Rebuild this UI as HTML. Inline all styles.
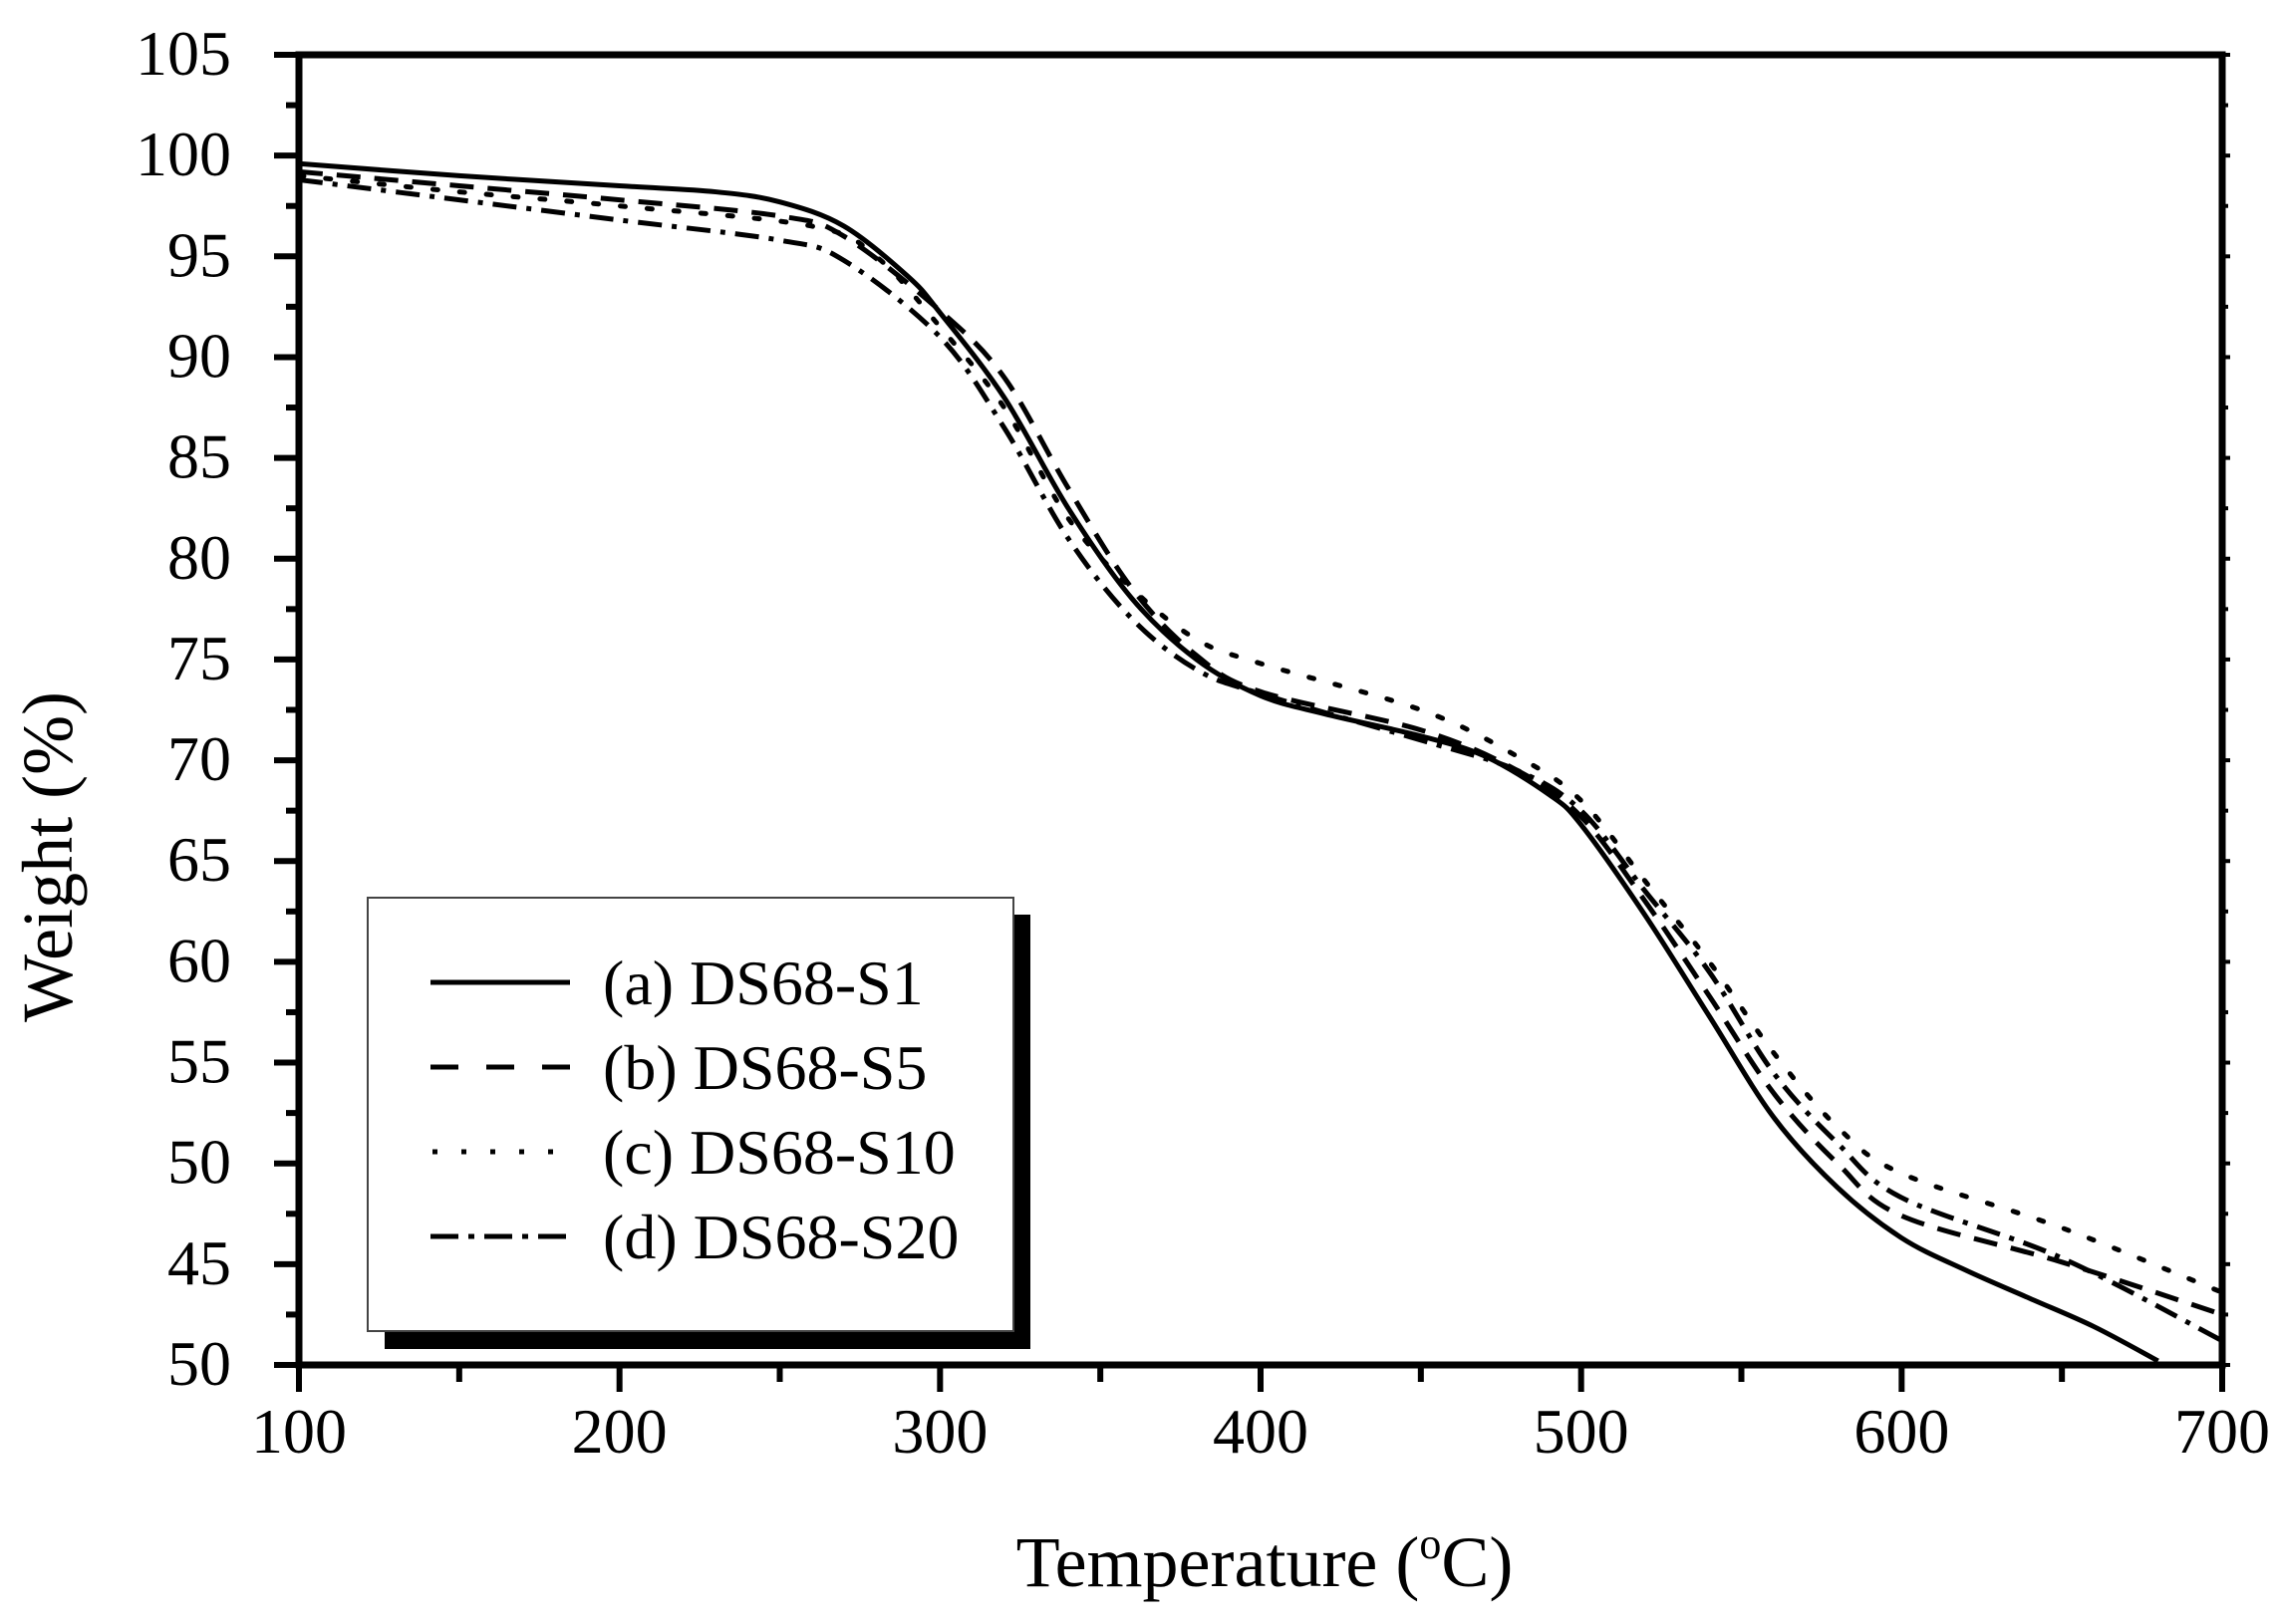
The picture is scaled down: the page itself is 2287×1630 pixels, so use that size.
<!DOCTYPE html>
<html><head><meta charset="utf-8"><style>
html,body{margin:0;padding:0;background:#fff;}
svg{display:block;}
text{font-family:"Liberation Serif",serif;fill:#000;}
</style></head><body>
<svg id="s" width="2287" height="1630" viewBox="0 0 2287 1630" xmlns="http://www.w3.org/2000/svg">
<rect width="2287" height="1630" fill="#fff"/>
<g id="ticks"></g>
<g id="curves" fill="none" stroke="#000" stroke-width="5" stroke-linejoin="round"></g>
<rect x="300" y="55" width="1930" height="1315" fill="none" stroke="#000" stroke-width="7"/>
<!-- legend -->
<rect x="386" y="918" width="648" height="436" fill="#000"/>
<rect x="369" y="901" width="648" height="435" fill="#fff" stroke="#444" stroke-width="2"/>
<g stroke="#000" stroke-width="5">
<line x1="432" y1="986" x2="572" y2="986"/>
<line x1="432" y1="1071" x2="572" y2="1071" stroke-dasharray="28 28"/>
<line x1="434" y1="1156" x2="572" y2="1156" stroke-dasharray="5 24"/>
<line x1="432" y1="1241" x2="572" y2="1241" stroke-dasharray="28 10 6 10"/>
</g>
<g font-size="64">
<text x="605" y="1008">(a) DS68-S1</text>
<text x="605" y="1093">(b) DS68-S5</text>
<text x="605" y="1178">(c) DS68-S10</text>
<text x="605" y="1263">(d) DS68-S20</text>
</g>
<text x="1269" y="1592" font-size="72" text-anchor="middle">Temperature (<tspan font-size="44" dy="-28">o</tspan><tspan dy="28">C)</tspan></text>
<text transform="translate(72,860) rotate(-90)" font-size="72" text-anchor="middle">Weight (%)</text>
</svg>
<script>
var X=function(t){return 300+(t-100)*1930/600;};
var Y=function(w){return 55+(105-w)*1315/65;};
var ns="http://www.w3.org/2000/svg";
var tk=document.getElementById('ticks');
function el(n,a,p){var e=document.createElementNS(ns,n);for(var k in a)e.setAttribute(k,a[k]);(p||tk).appendChild(e);return e;}
var ylab=["105","100","95","90","85","80","75","70","65","60","55","50","45","50"];
for(var i=0;i<=13;i++){var w=105-5*i,y=Y(w);
 el('line',{x1:275,y1:y,x2:300,y2:y,stroke:'#000','stroke-width':6});
 el('line',{x1:2230,y1:y,x2:2238,y2:y,stroke:'#000','stroke-width':4});
 var t=el('text',{x:232,y:y+20,'font-size':64,'text-anchor':'end'});t.textContent=ylab[i];
 if(i<13){var ym=Y(w-2.5);el('line',{x1:287,y1:ym,x2:300,y2:ym,stroke:'#000','stroke-width':6});el('line',{x1:2230,y1:ym,x2:2236,y2:ym,stroke:'#000','stroke-width':4});}
}
for(var T=100;T<=700;T+=50){var x=X(T),maj=(T%100==0);
 el('line',{x1:x,y1:1370,x2:x,y2:maj?1397:1387,stroke:'#000','stroke-width':6});
 if(maj){var t=el('text',{x:x,y:1458,'font-size':64,'text-anchor':'middle'});t.textContent=T;}
}
var data={
a:[[100,99.6],[150,99.0],[200,98.5],[230,98.2],[250,97.7],[270,96.5],[290,94],[300,92.2],[320,88],[340,82.5],[360,78],[380,75],[400,73.2],[420,72.3],[450,71.2],[470,70.2],[490,68.3],[500,66.8],[520,62.3],[540,57.3],[560,52.3],[580,48.8],[600,46.3],[620,44.7],[640,43.3],[660,41.9],[680,40.2]],
b:[[100,99.2],[150,98.5],[200,97.8],[250,97],[270,96],[300,92.3],[320,89],[340,83.5],[360,78.5],[380,75.2],[400,73.4],[450,71.5],[480,69.5],[500,67.2],[520,63],[540,58.3],[560,53.5],[580,50],[600,47.4],[650,45.1],[700,42.5]],
c:[[100,99],[150,98.2],[200,97.5],[260,96.5],[280,95],[300,91.5],[320,87.5],[340,82],[360,78.5],[380,76],[400,74.8],[450,72.5],[480,70.2],[500,68],[520,64],[540,60],[560,55.5],[580,51.8],[600,49.5],[650,46.8],[700,43.6]],
d:[[100,98.8],[150,97.8],[200,96.8],[250,95.8],[270,94.8],[300,91],[320,86.5],[340,81],[360,77],[380,74.5],[400,73.3],[450,71],[480,69.5],[500,67.5],[520,63.5],[540,59.5],[560,54.5],[580,51],[600,48.3],[650,45.3],[700,41.2]]};
var dash={a:null,b:"24 14",c:"5 22",d:"24 10 5 10"};
var cg=document.getElementById('curves');
for(var k in data){var p=data[k].map(function(q){return [X(q[0]),Y(q[1])];});
 var d="M"+p[0][0]+","+p[0][1];
 for(var i=0;i<p.length-1;i++){var p0=p[i-1]||p[i],p1=p[i],p2=p[i+1],p3=p[i+2]||p2;
  d+=" C"+(p1[0]+(p2[0]-p0[0])/6)+","+(p1[1]+(p2[1]-p0[1])/6)+" "+(p2[0]-(p3[0]-p1[0])/6)+","+(p2[1]-(p3[1]-p1[1])/6)+" "+p2[0]+","+p2[1];}
 var a={d:d};if(dash[k])a['stroke-dasharray']=dash[k];if(k=='c')a['stroke-linecap']='round';el('path',a,cg);}
var cp=el('clipPath',{id:'cl'},document.getElementById('s'));el('rect',{x:300,y:55,width:1930,height:1315},cp);cg.setAttribute('clip-path','url(#cl)');
</script>
</body></html>
